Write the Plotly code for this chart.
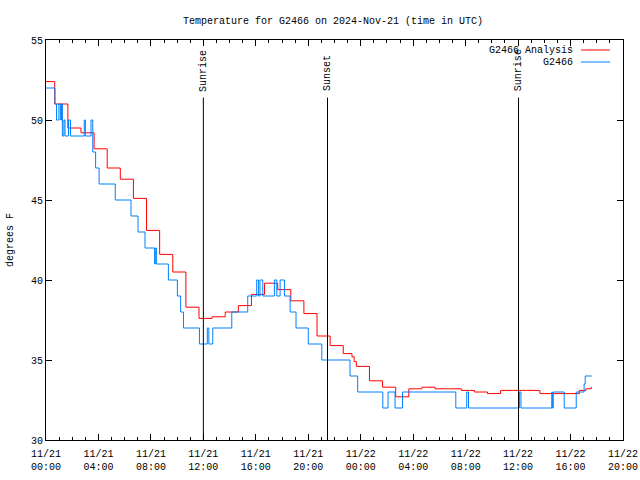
import plotly.graph_objects as go

# ---- data ----
analysis_times = [
    "2024-11-21 00:00", "2024-11-21 00:40", "2024-11-21 01:40", "2024-11-21 02:40",
    "2024-11-21 03:40", "2024-11-21 04:40", "2024-11-21 05:40", "2024-11-21 06:40",
    "2024-11-21 07:40", "2024-11-21 08:40", "2024-11-21 09:40", "2024-11-21 10:40",
    "2024-11-21 11:40", "2024-11-21 12:40", "2024-11-21 13:40", "2024-11-21 14:40",
    "2024-11-21 15:40", "2024-11-21 16:40", "2024-11-21 17:40", "2024-11-21 18:40",
    "2024-11-21 19:40", "2024-11-21 20:40", "2024-11-21 21:40", "2024-11-21 22:40",
    "2024-11-21 23:20", "2024-11-21 23:30", "2024-11-21 23:40",
    "2024-11-22 00:40", "2024-11-22 01:40", "2024-11-22 02:40", "2024-11-22 03:40",
    "2024-11-22 04:40", "2024-11-22 05:40", "2024-11-22 06:40", "2024-11-22 07:40",
    "2024-11-22 08:40", "2024-11-22 09:40", "2024-11-22 10:40", "2024-11-22 11:40",
    "2024-11-22 12:40", "2024-11-22 13:40", "2024-11-22 14:40", "2024-11-22 15:40",
    "2024-11-22 16:40", "2024-11-22 17:10", "2024-11-22 17:35", "2024-11-22 17:37",
]
analysis_vals = [
    52.4, 51.0, 49.5, 49.2,
    48.2, 47.0, 46.3, 45.1,
    43.1, 41.6, 40.5, 38.3,
    37.6, 37.7, 38.0, 38.4,
    39.1, 39.8, 39.4, 38.7,
    37.9, 36.5, 35.9, 35.4,
    35.2, 34.9, 34.6,
    33.7, 33.3, 32.7, 33.2,
    33.3, 33.2, 33.2, 33.1,
    33.0, 32.9, 33.1, 33.1,
    33.1, 32.9, 32.9, 32.9,
    33.1, 33.2, 33.3, 33.3,
]

obs_times = [
    "2024-11-21 00:00", "2024-11-21 00:41", "2024-11-21 00:48", "2024-11-21 00:59",
    "2024-11-21 01:06", "2024-11-21 01:11", "2024-11-21 01:15", "2024-11-21 01:22",
    "2024-11-21 01:27", "2024-11-21 01:43", "2024-11-21 01:52", "2024-11-21 02:55",
    "2024-11-21 03:00", "2024-11-21 03:26", "2024-11-21 03:34", "2024-11-21 03:47",
    "2024-11-21 04:03", "2024-11-21 05:17", "2024-11-21 06:29", "2024-11-21 07:01",
    "2024-11-21 07:33", "2024-11-21 08:17", "2024-11-21 08:20", "2024-11-21 08:25",
    "2024-11-21 09:20", "2024-11-21 10:01", "2024-11-21 10:16", "2024-11-21 10:29",
    "2024-11-21 11:42", "2024-11-21 12:18", "2024-11-21 12:25", "2024-11-21 12:43",
    "2024-11-21 14:10", "2024-11-21 15:23", "2024-11-21 16:04", "2024-11-21 16:12",
    "2024-11-21 16:19", "2024-11-21 16:32", "2024-11-21 17:25", "2024-11-21 17:36",
    "2024-11-21 17:51", "2024-11-21 18:11", "2024-11-21 18:37", "2024-11-21 19:04",
    "2024-11-21 20:00", "2024-11-21 21:02", "2024-11-21 23:11", "2024-11-21 23:46",
    "2024-11-22 01:41", "2024-11-22 02:05", "2024-11-22 02:37", "2024-11-22 03:11",
    "2024-11-22 07:15", "2024-11-22 08:05", "2024-11-22 08:13", "2024-11-22 12:06",
    "2024-11-22 12:13", "2024-11-22 14:34", "2024-11-22 14:37", "2024-11-22 14:41",
    "2024-11-22 15:31", "2024-11-22 16:26", "2024-11-22 17:02", "2024-11-22 17:07",
    "2024-11-22 17:37",
]
obs_vals = [
    52, 51, 50, 51,
    50, 51, 49, 50,
    49, 50, 49, 50,
    49, 50, 48, 47,
    46, 45, 44, 43,
    42, 41, 42, 41,
    40, 39, 38, 37,
    36, 37, 36, 37,
    38, 39, 40, 39,
    40, 39, 40, 39,
    40, 39, 38, 37,
    36, 35, 34, 33,
    32, 33, 32, 33,
    32, 33, 32, 33,
    32, 33, 32, 33,
    32, 33, 33.5, 34,
    34,
]

sun_times = ["2024-11-21 12:00", "2024-11-21 21:28", "2024-11-22 12:02"]
sun_labels = ["Sunrise", "Sunset", "Sunrise"]

tick_vals = [
    "2024-11-21 00:00", "2024-11-21 04:00", "2024-11-21 08:00", "2024-11-21 12:00",
    "2024-11-21 16:00", "2024-11-21 20:00", "2024-11-22 00:00", "2024-11-22 04:00",
    "2024-11-22 08:00", "2024-11-22 12:00", "2024-11-22 16:00", "2024-11-22 20:00",
]
tick_text = [
    "11/21<br>00:00", "11/21<br>04:00", "11/21<br>08:00", "11/21<br>12:00",
    "11/21<br>16:00", "11/21<br>20:00", "11/22<br>00:00", "11/22<br>04:00",
    "11/22<br>08:00", "11/22<br>12:00", "11/22<br>16:00", "11/22<br>20:00",
]

series_names = ["G2466 Analysis", "G2466"]
series_colors = ["#ff0000", "#0080ff"]

FONT = "Liberation Mono"
FS = 10
W, H = 640, 480
L, R, T, B = 46, 17, 40, 40
PW, PH = W - L - R, H - T - B

fig = go.Figure()
fig.add_trace(go.Scatter(x=analysis_times, y=analysis_vals, mode="lines",
                         line=dict(color=series_colors[0], width=1, shape="hv"),
                         name=series_names[0], showlegend=False))
fig.add_trace(go.Scatter(x=obs_times, y=obs_vals, mode="lines",
                         line=dict(color=series_colors[1], width=1, shape="hv"),
                         name=series_names[1], showlegend=False))

for t, lab in zip(sun_times, sun_labels):
    fig.add_shape(type="line", xref="x", yref="y", x0=t, x1=t, y0=30, y1=51.4,
                  line=dict(color="black", width=1))
    fig.add_annotation(x=t, y=51.65, xref="x", yref="y", text=lab, textangle=-90,
                       showarrow=False, xanchor="center", yanchor="bottom",
                       font=dict(family=FONT, size=FS, color="black"))

# gnuplot-style key: text right-aligned, sample line to its right
for i, (nm, col) in enumerate(zip(series_names, series_colors)):
    ypos = 1 - (10 + 12 * i) / PH
    fig.add_annotation(x=(575 - L) / PW, y=ypos, xref="paper", yref="paper",
                       text=nm, showarrow=False, xanchor="right", yanchor="middle",
                       font=dict(family=FONT, size=FS, color="black"))
    fig.add_shape(type="line", xref="paper", yref="paper",
                  x0=(581 - L) / PW, x1=(610 - L) / PW, y0=ypos, y1=ypos,
                  line=dict(color=col, width=1))

# y axis title
fig.add_annotation(x=(10 - L) / PW, y=0.5, xref="paper", yref="paper",
                   text="degrees F", textangle=-90, showarrow=False,
                   xanchor="center", yanchor="middle",
                   font=dict(family=FONT, size=FS, color="black"))

fig.update_layout(
    width=W, height=H,
    margin=dict(l=L, r=R, t=T, b=B, autoexpand=False),
    paper_bgcolor="white", plot_bgcolor="white",
    font=dict(family=FONT, size=FS, color="black"),
    title=dict(text="Temperature for G2466 on 2024-Nov-21 (time in UTC)",
               x=333 / W, xanchor="center", y=1 - 20 / H, yanchor="middle",
               font=dict(family=FONT, size=FS, color="black")),
    showlegend=False,
    hovermode=False,
)
fig.update_xaxes(
    type="date", range=["2024-11-21 00:00", "2024-11-22 20:00"],
    tickmode="array", tickvals=tick_vals, ticktext=tick_text,
    ticks="inside", ticklen=6, tickcolor="black", tickwidth=1,
    showline=True, linecolor="black", linewidth=1, mirror="ticks",
    showgrid=False, zeroline=False, automargin=False,
    ticklabelstandoff=4,
    minor=dict(dtick=3600000, tick0="2024-11-21 00:00", ticks="inside",
               ticklen=3, tickcolor="black", showgrid=False),
    tickfont=dict(family=FONT, size=FS),
)
fig.update_yaxes(
    range=[30, 55], dtick=5, tick0=30,
    ticks="inside", ticklen=6, tickcolor="black", tickwidth=1,
    showline=True, linecolor="black", linewidth=1, mirror="ticks",
    showgrid=False, zeroline=False, automargin=False,
    tickfont=dict(family=FONT, size=FS),
)

# remove the page's default body margin so the 640x480 figure fills the window
fig.write_html("out.html",
               config={"displayModeBar": False, "staticPlot": True},
               post_script="document.body.style.margin='0';"
                           "document.body.style.overflow='hidden';")
